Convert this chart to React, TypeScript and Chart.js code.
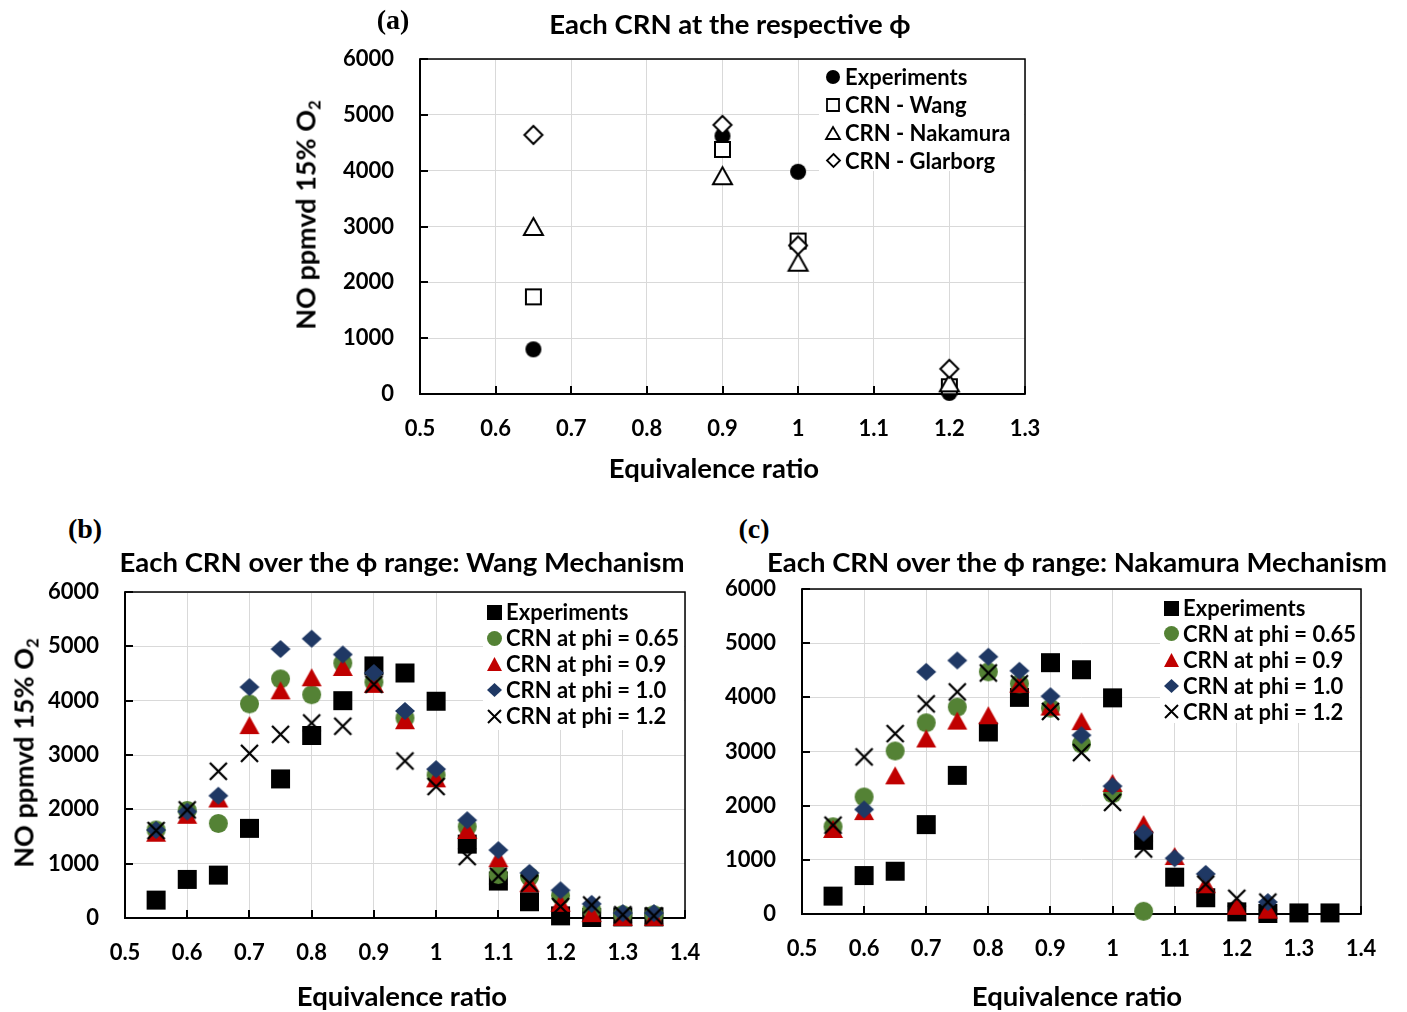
import React, { useEffect, useRef } from "react";
import { Chart, registerables } from "chart.js";

Chart.register(...registerables);

const FONT = "Lato, 'Open Sans', sans-serif";

// ---------- Tick labels ----------
const yTicks = [0, 1000, 2000, 3000, 4000, 5000, 6000];
const xTicksA = [0.5, 0.6, 0.7, 0.8, 0.9, 1.0, 1.1, 1.2, 1.3];
const xTicksBC = [0.5, 0.6, 0.7, 0.8, 0.9, 1.0, 1.1, 1.2, 1.3, 1.4];

// ---------- Panel (a): each CRN at the respective phi ----------
const phiA = [0.65, 0.9, 1.0, 1.2];
const expA = [800, 4620, 3980, 20];
const wangA = [1740, 4380, 2740, 130];
const nakamuraA = [3000, 3910, 2360, 200];
const glarborgA = [4640, 4820, 2660, 450];

// ---------- Panels (b), (c): phi range ----------
const phiRange = [0.55, 0.6, 0.65, 0.7, 0.75, 0.8, 0.85, 0.9, 0.95, 1.0, 1.05, 1.1, 1.15, 1.2, 1.25, 1.3, 1.35];
const experiments = [330, 710, 790, 1650, 2560, 3360, 4000, 4640, 4510, 3990, 1360, 680, 300, 40, 10, 20, 20];

// Wang mechanism
const wang065 = [1620, 1980, 1740, 3940, 4400, 4110, 4690, 4340, 3680, 2630, 1680, 800, 760, 410, 150, 60, 60];
const wang09 = [1570, 1900, 2200, 3550, 4190, 4430, 4620, 4310, 3640, 2570, 1620, 1100, 640, 280, 90, 20, 20];
const wang10 = [1620, 1960, 2250, 4250, 4950, 5140, 4850, 4510, 3810, 2740, 1800, 1250, 830, 510, 260, 90, 90];
const wang12 = [1610, 1990, 2700, 3030, 3380, 3590, 3530, 4300, 2890, 2420, 1130, 770, 640, 210, 240, 60, 40];

// Nakamura mechanism
const nak065 = [1610, 2160, 3010, 3530, 3820, 4470, 4250, 3800, 3140, 2220, 50, null, null, null, null, null, null];
const nak09 = [1570, 1900, 2560, 3240, 3570, 3670, 4250, 3830, 3560, 2420, 1660, 1070, 550, 150, 80, null, null];
const nak10 = [null, 1930, null, 4470, 4680, 4750, 4490, 4020, 3300, 2360, 1500, 1030, 740, null, 220, null, null];
const nak12 = [1640, 2900, 3330, 3880, 4100, 4450, 4250, 3740, 2980, 2060, 1200, null, 550, 290, 220, null, null];

// ---------- colours ----------
const GREEN = "#548235";
const RED = "#C00000";
const NAVY = "#1F3864";
const BLACK = "#000000";

type Shape = "circle" | "rect" | "triangle" | "diamond" | "cross";

function makeMarker(shape: Shape, w: number, h: number, fill: string | null, stroke: string | null, lw: number) {
  const pad = Math.ceil(lw) + 2;
  const c = document.createElement("canvas");
  c.width = Math.ceil(w + pad * 2);
  c.height = Math.ceil(h + pad * 2);
  const ctx = c.getContext("2d")!;
  const cx = c.width / 2;
  const cy = c.height / 2;
  ctx.beginPath();
  if (shape === "circle") {
    ctx.ellipse(cx, cy, w / 2, h / 2, 0, 0, Math.PI * 2);
  } else if (shape === "rect") {
    ctx.rect(cx - w / 2, cy - h / 2, w, h);
  } else if (shape === "triangle") {
    ctx.moveTo(cx, cy - h / 2);
    ctx.lineTo(cx + w / 2, cy + h / 2);
    ctx.lineTo(cx - w / 2, cy + h / 2);
    ctx.closePath();
  } else if (shape === "diamond") {
    ctx.moveTo(cx, cy - h / 2);
    ctx.lineTo(cx + w / 2, cy);
    ctx.lineTo(cx, cy + h / 2);
    ctx.lineTo(cx - w / 2, cy);
    ctx.closePath();
  } else {
    ctx.moveTo(cx - w / 2, cy - h / 2);
    ctx.lineTo(cx + w / 2, cy + h / 2);
    ctx.moveTo(cx + w / 2, cy - h / 2);
    ctx.lineTo(cx - w / 2, cy + h / 2);
  }
  if (fill && shape !== "cross") {
    ctx.fillStyle = fill;
    ctx.fill();
  }
  if (stroke && lw > 0) {
    ctx.strokeStyle = stroke;
    ctx.lineWidth = lw;
    ctx.lineJoin = "miter";
    ctx.stroke();
  }
  return c;
}

type MarkerSpec = { shape: Shape; w: number; h: number; fill: string | null; stroke: string | null; lw: number };

type SeriesSpec = {
  label: string;
  xs: number[];
  ys: (number | null)[];
  marker: MarkerSpec;
  legendMarker: MarkerSpec;
};

type PanelSpec = {
  cx: number;
  cy: number;
  cw: number;
  ch: number;
  yAxisWidth: number;
  xAxisHeight: number;
  padTop: number;
  padRight: number;
  xMin: number;
  xMax: number;
  xTicks: number[];
  series: SeriesSpec[];
  legend: { markerX: number; textX: number; y0: number; step: number; fontSize: number; boxLeft: number; boxBottom: number };
};

const framePlugin = {
  id: "frame",
  beforeDatasetsDraw(chart: any) {
    const { ctx, chartArea } = chart;
    const { left, right, top, bottom } = chartArea;
    const xs = chart.scales.x;
    const ys = chart.scales.y;
    ctx.save();
    ctx.strokeStyle = "#000";
    ctx.lineWidth = 1.5;
    ctx.beginPath();
    ctx.moveTo(left, top);
    ctx.lineTo(right, top);
    ctx.lineTo(right, bottom);
    ctx.stroke();
    ctx.lineWidth = 2;
    ctx.beginPath();
    ctx.moveTo(left, top - 0.75);
    ctx.lineTo(left, bottom);
    ctx.lineTo(right + 0.75, bottom);
    ctx.stroke();
    ctx.lineWidth = 2;
    ctx.beginPath();
    xs.ticks.forEach((t: any) => {
      const px = Math.round(xs.getPixelForValue(t.value));
      ctx.moveTo(px, bottom);
      ctx.lineTo(px, bottom - 8);
    });
    ys.ticks.forEach((t: any) => {
      const py = Math.round(ys.getPixelForValue(t.value));
      ctx.moveTo(left, py);
      ctx.lineTo(left + 8, py);
    });
    ctx.stroke();
    ctx.restore();
  },
};

const legendPlugin = {
  id: "boxLegend",
  afterDatasetsDraw(chart: any, _args: any, opts: any) {
    const { ctx, chartArea } = chart;
    const { left, top, right } = chartArea;
    const lg = opts.legend;
    const items = opts.items as { label: string; img: HTMLCanvasElement }[];
    ctx.save();
    ctx.fillStyle = "#ffffff";
    ctx.fillRect(left + lg.boxLeft, top + 1, right - 1 - (left + lg.boxLeft), lg.boxBottom - 1);
    ctx.font = `700 ${lg.fontSize}px ${FONT}`;
    ctx.fillStyle = "#000";
    ctx.textAlign = "left";
    ctx.textBaseline = "middle";
    items.forEach((it, i) => {
      const y = top + lg.y0 + i * lg.step;
      const mx = left + lg.markerX;
      ctx.drawImage(it.img, Math.round(mx - it.img.width / 2), Math.round(y - it.img.height / 2));
      ctx.fillText(it.label, left + lg.textX, y + 1);
    });
    ctx.restore();
  },
};

function Panel({ spec }: { spec: PanelSpec }) {
  const ref = useRef<HTMLCanvasElement>(null);
  useEffect(() => {
    const canvas = ref.current!;
    const n = spec.series.length;
    const datasets = spec.series.map((s, i) => {
      const img = makeMarker(s.marker.shape, s.marker.w, s.marker.h, s.marker.fill, s.marker.stroke, s.marker.lw);
      const data = s.xs
        .map((x, j) => ({ x, y: s.ys[j] }))
        .filter((p) => p.y !== null && p.y !== undefined);
      return {
        label: s.label,
        data,
        pointStyle: img,
        pointRadius: 10,
        showLine: false,
        clip: false as any,
        order: n - i, // later series drawn on top (as in the original)
      };
    });
    const legendItems = spec.series.map((s) => ({
      label: s.label,
      img: makeMarker(s.legendMarker.shape, s.legendMarker.w, s.legendMarker.h, s.legendMarker.fill, s.legendMarker.stroke, s.legendMarker.lw),
    }));
    const tickFont = { family: FONT, size: 22, weight: "bold" as const };
    const chart = new Chart(canvas, {
      type: "scatter",
      data: { datasets: datasets as any },
      plugins: [framePlugin, legendPlugin],
      options: {
        responsive: false,
        animation: false,
        events: [],
        layout: { padding: { top: spec.padTop, right: spec.padRight, left: 0, bottom: 0 } },
        plugins: {
          legend: { display: false },
          tooltip: { enabled: false },
          title: { display: false },
          boxLegend: { legend: spec.legend, items: legendItems },
        } as any,
        scales: {
          x: {
            type: "linear",
            min: spec.xMin,
            max: spec.xMax,
            afterBuildTicks: (scale: any) => {
              scale.ticks = spec.xTicks.map((v) => ({ value: v }));
            },
            afterFit: (scale: any) => {
              scale.height = spec.xAxisHeight;
            },
            grid: { color: "#d9d9d9", lineWidth: 1, drawTicks: false },
            border: { display: false },
            ticks: {
              color: "#000",
              font: tickFont,
              padding: 22,
              maxRotation: 0,
              autoSkip: false,
              callback: (v: any) => String(Math.round(Number(v) * 100) / 100),
            },
          },
          y: {
            type: "linear",
            min: 0,
            max: 6000,
            afterBuildTicks: (scale: any) => {
              scale.ticks = yTicks.map((v) => ({ value: v }));
            },
            afterFit: (scale: any) => {
              scale.width = spec.yAxisWidth;
            },
            grid: { color: "#d9d9d9", lineWidth: 1, drawTicks: false },
            border: { display: false },
            ticks: {
              color: "#000",
              font: tickFont,
              padding: 26,
              autoSkip: false,
              callback: (v: any) => String(v),
            },
          },
        },
      } as any,
    });
    return () => chart.destroy();
  }, []);
  return (
    <canvas
      ref={ref}
      width={spec.cw}
      height={spec.ch}
      style={{ position: "absolute", left: spec.cx, top: spec.cy, width: spec.cw, height: spec.ch }}
    />
  );
}

const mk = (shape: Shape, w: number, h: number, fill: string | null, stroke: string | null, lw: number): MarkerSpec => ({ shape, w, h, fill, stroke, lw });

const PAD = 45;

const panelA: PanelSpec = {
  cx: 320,
  cy: 59 - PAD,
  cw: 1025 + PAD - 320,
  ch: PAD + 335 + 70,
  yAxisWidth: 100,
  xAxisHeight: 70,
  padTop: PAD,
  padRight: PAD,
  xMin: 0.5,
  xMax: 1.3,
  xTicks: xTicksA,
  series: [
    { label: "Experiments", xs: phiA, ys: expA, marker: mk("circle", 16, 16, BLACK, null, 0), legendMarker: mk("circle", 14, 14, BLACK, null, 0) },
    { label: "CRN - Wang", xs: phiA, ys: wangA, marker: mk("rect", 15, 15, "#fff", BLACK, 2), legendMarker: mk("rect", 12, 12, "#fff", BLACK, 1.8) },
    { label: "CRN - Nakamura", xs: phiA, ys: nakamuraA, marker: mk("triangle", 19, 17, "#fff", BLACK, 2), legendMarker: mk("triangle", 14, 12, "#fff", BLACK, 1.8) },
    { label: "CRN - Glarborg", xs: phiA, ys: glarborgA, marker: mk("diamond", 18, 18, "#fff", BLACK, 2), legendMarker: mk("diamond", 13, 13, "#fff", BLACK, 1.8) },
  ],
  legend: { markerX: 413, textX: 425, y0: 18, step: 27.9, fontSize: 22, boxLeft: 399, boxBottom: 112 },
};

const bcSeries = (s065: (number | null)[], s09: (number | null)[], s10: (number | null)[], s12: (number | null)[]): SeriesSpec[] => [
  { label: "Experiments", xs: phiRange, ys: experiments, marker: mk("rect", 19, 19, BLACK, null, 0), legendMarker: mk("rect", 15, 15, BLACK, null, 0) },
  { label: "CRN at phi = 0.65", xs: phiRange, ys: s065, marker: mk("circle", 19, 19, GREEN, null, 0), legendMarker: mk("circle", 15, 15, GREEN, null, 0) },
  { label: "CRN at phi = 0.9", xs: phiRange, ys: s09, marker: mk("triangle", 20, 18, RED, null, 0), legendMarker: mk("triangle", 15, 14, RED, null, 0) },
  { label: "CRN at phi = 1.0", xs: phiRange, ys: s10, marker: mk("diamond", 20, 18, NAVY, null, 0), legendMarker: mk("diamond", 15, 14, NAVY, null, 0) },
  { label: "CRN at phi = 1.2", xs: phiRange, ys: s12, marker: mk("cross", 17, 17, null, BLACK, 2.3), legendMarker: mk("cross", 13, 13, null, BLACK, 2) },
];

const panelB: PanelSpec = {
  cx: 25,
  cy: 592 - PAD,
  cw: 685 + PAD - 25,
  ch: PAD + 326 + 70,
  yAxisWidth: 100,
  xAxisHeight: 70,
  padTop: PAD,
  padRight: PAD,
  xMin: 0.5,
  xMax: 1.4,
  xTicks: xTicksBC,
  series: bcSeries(wang065, wang09, wang10, wang12),
  legend: { markerX: 369, textX: 381, y0: 20, step: 26, fontSize: 22, boxLeft: 358, boxBottom: 138 },
};

const panelC: PanelSpec = {
  cx: 702,
  cy: 589 - PAD,
  cw: 1361 + PAD - 702,
  ch: PAD + 325 + 70,
  yAxisWidth: 100,
  xAxisHeight: 70,
  padTop: PAD,
  padRight: PAD,
  xMin: 0.5,
  xMax: 1.4,
  xTicks: xTicksBC,
  series: bcSeries(nak065, nak09, nak10, nak12),
  legend: { markerX: 369, textX: 381, y0: 19, step: 25.9, fontSize: 22, boxLeft: 358, boxBottom: 134 },
};

function Label({ x, y, size, children, serif, rotate }: { x: number; y: number; size: number; children: any; serif?: boolean; rotate?: boolean }) {
  return (
    <div
      style={{
        position: "absolute",
        left: x,
        top: y,
        transform: `translate(-50%, -50%)${rotate ? " rotate(-90deg)" : ""}`,
        whiteSpace: "nowrap",
        fontFamily: serif ? "'Liberation Serif', 'DejaVu Serif', serif" : FONT,
        fontWeight: 700,
        fontSize: size,
        lineHeight: 1,
        color: "#000",
      }}
    >
      {children}
    </div>
  );
}

const yTitle = (
  <span>
    NO ppmvd 15% O<sub style={{ fontSize: "0.62em", verticalAlign: "-0.3em", lineHeight: 0 }}>2</sub>
  </span>
);

export default function App() {
  return (
    <div style={{ position: "absolute", left: 0, top: 0, width: 1407, height: 1012, background: "#fff", overflow: "hidden" }}>
      <Panel spec={panelA} />
      <Panel spec={panelB} />
      <Panel spec={panelC} />

      <Label x={393} y={20} size={28} serif>(a)</Label>
      <Label x={730} y={24} size={27.5}>Each CRN at the respective ϕ</Label>
      <Label x={305} y={215} size={27} rotate>{yTitle}</Label>
      <Label x={714} y={468} size={27.5}>Equivalence ratio</Label>

      <Label x={85} y={529} size={28} serif>(b)</Label>
      <Label x={402} y={562} size={27.5}>Each CRN over the ϕ range: Wang Mechanism</Label>
      <Label x={23} y={753} size={27} rotate>{yTitle}</Label>
      <Label x={402} y={996} size={27.5}>Equivalence ratio</Label>

      <Label x={754} y={529} size={28} serif>(c)</Label>
      <Label x={1077} y={562} size={27.5}>Each CRN over the ϕ range: Nakamura Mechanism</Label>
      <Label x={1077} y={996} size={27.5}>Equivalence ratio</Label>
    </div>
  );
}
